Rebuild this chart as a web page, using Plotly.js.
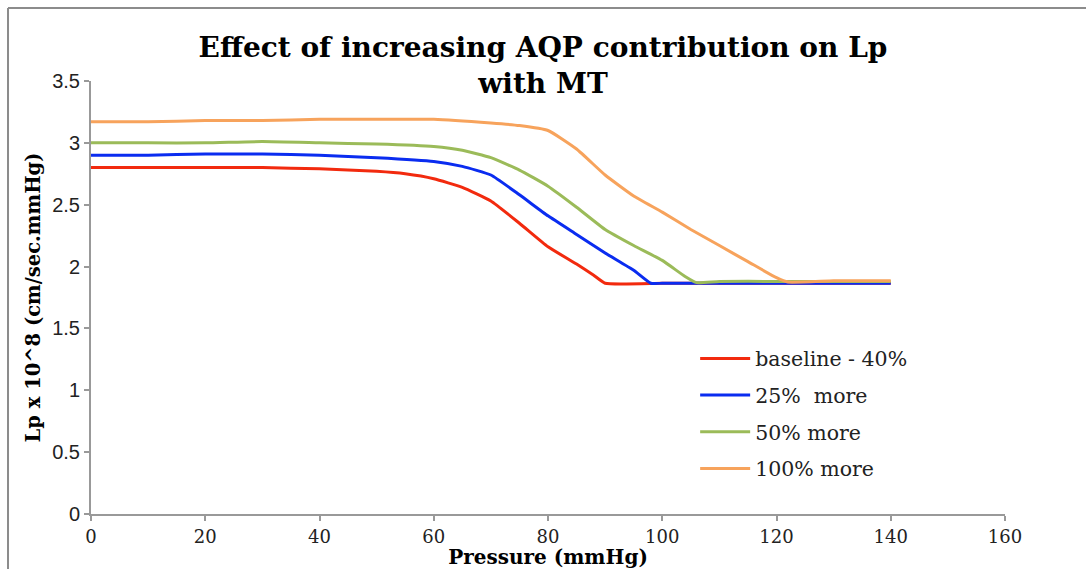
<!DOCTYPE html>
<html>
<head>
<meta charset="utf-8">
<script src="https://cdn.plot.ly/plotly-3.0.1.min.js"></script>
<style>html,body{margin:0;padding:0;background:#fff;}#chart{width:1086px;height:569px;}</style>
</head>
<body>
<div id="chart"></div>
<script>
const seriesNames = ["baseline - 40%", "25%  more", "50% more", "100% more"];
const seriesColors = ["#f22a0e", "#0a2cf0", "#9bbb59", "#f7a35c"];

const redX = [0,10,20,30,40,50,55,60,65,70,75,80,85,88,90,100,110,120,130,140];
const redY = [2.80,2.80,2.80,2.80,2.79,2.77,2.75,2.71,2.64,2.53,2.35,2.16,2.02,1.93,1.865,1.865,1.865,1.865,1.865,1.865];

const blueX = [0,10,20,30,40,50,60,65,70,75,80,85,90,95,98,100,110,120,130,140];
const blueY = [2.90,2.90,2.91,2.91,2.90,2.88,2.85,2.81,2.74,2.58,2.41,2.26,2.11,1.97,1.865,1.865,1.865,1.865,1.865,1.865];

const greenX = [0,10,20,30,40,50,60,65,70,75,80,85,90,95,100,104,106,110,120,130,140];
const greenY = [3.00,3.00,3.00,3.01,3.00,2.99,2.97,2.94,2.88,2.78,2.65,2.48,2.30,2.17,2.05,1.92,1.87,1.88,1.88,1.88,1.88];

const orangeX = [0,10,20,30,40,50,60,70,75,80,85,90,95,100,105,110,115,120,122,130,140];
const orangeY = [3.17,3.17,3.18,3.18,3.19,3.19,3.19,3.16,3.14,3.10,2.95,2.74,2.57,2.44,2.30,2.17,2.04,1.91,1.875,1.885,1.885];

const xs = [redX, blueX, greenX, orangeX];
const ys = [redY, blueY, greenY, orangeY];

const traces = xs.map((x, i) => ({
  x: x, y: ys[i], type: "scatter", mode: "lines",
  name: seriesNames[i], legendgroup: "g" + i,
  line: {color: seriesColors[i], width: 3, shape: "spline", smoothing: 0.45}
}));

const layout = {
  width: 1086, height: 569,
  margin: {l: 91, r: 81, t: 81, b: 55},
  paper_bgcolor: "#ffffff", plot_bgcolor: "#ffffff",
  title: {
    text: "<b>Effect of increasing AQP contribution on Lp<br>with MT</b>",
    font: {family: "DejaVu Serif", size: 28, color: "#000"},
    x: 0.5, xanchor: "center", y: 0.90, yanchor: "top"
  },
  xaxis: {
    range: [0, 160], tickvals: [0,20,40,60,80,100,120,140,160],
    showgrid: false, zeroline: false, showline: true, linecolor: "#999", linewidth: 2,
    ticks: "outside", ticklen: 5, tickcolor: "#999", tickwidth: 2,
    tickfont: {family: "DejaVu Serif", size: 18, color: "#222"},
    title: {text: "<b>Pressure (mmHg)</b>", font: {family: "DejaVu Serif", size: 20, color: "#000"}, standoff: 4}
  },
  yaxis: {
    range: [0, 3.5], tickvals: [0,0.5,1,1.5,2,2.5,3,3.5], ticktext: ["0","0.5","1","1.5","2","2.5","3","3.5"],
    showgrid: false, zeroline: false, showline: true, linecolor: "#999", linewidth: 2,
    ticks: "outside", ticklen: 5, tickcolor: "#999", tickwidth: 2,
    tickfont: {family: "Liberation Sans", size: 20, color: "#222"},
    title: {text: "<b>Lp x 10^8 (cm/sec.mmHg)</b>", font: {family: "DejaVu Serif", size: 19.5, color: "#000"}, standoff: 6}
  },
  legend: {
    x: 0.661, y: 0.405, xanchor: "left", yanchor: "top",
    bgcolor: "rgba(0,0,0,0)", borderwidth: 0,
    font: {family: "DejaVu Serif", size: 20.5, color: "#222"},
    traceorder: "grouped", tracegroupgap: 7, itemwidth: 50
  },
  shapes: [
    {type: "line", xref: "paper", yref: "paper", x0: -0.0908, x1: -0.0908, y0: 1.1686, y1: -0.2, line: {color: "#8c8c8c", width: 2}},
    {type: "line", xref: "paper", yref: "paper", x0: -0.0908, x1: 1.2, y0: 1.1686, y1: 1.1686, line: {color: "#8c8c8c", width: 2}}
  ],
  showlegend: true
};

Plotly.newPlot("chart", traces, layout, {displayModeBar: false, staticPlot: true});
</script>
</body>
</html>
